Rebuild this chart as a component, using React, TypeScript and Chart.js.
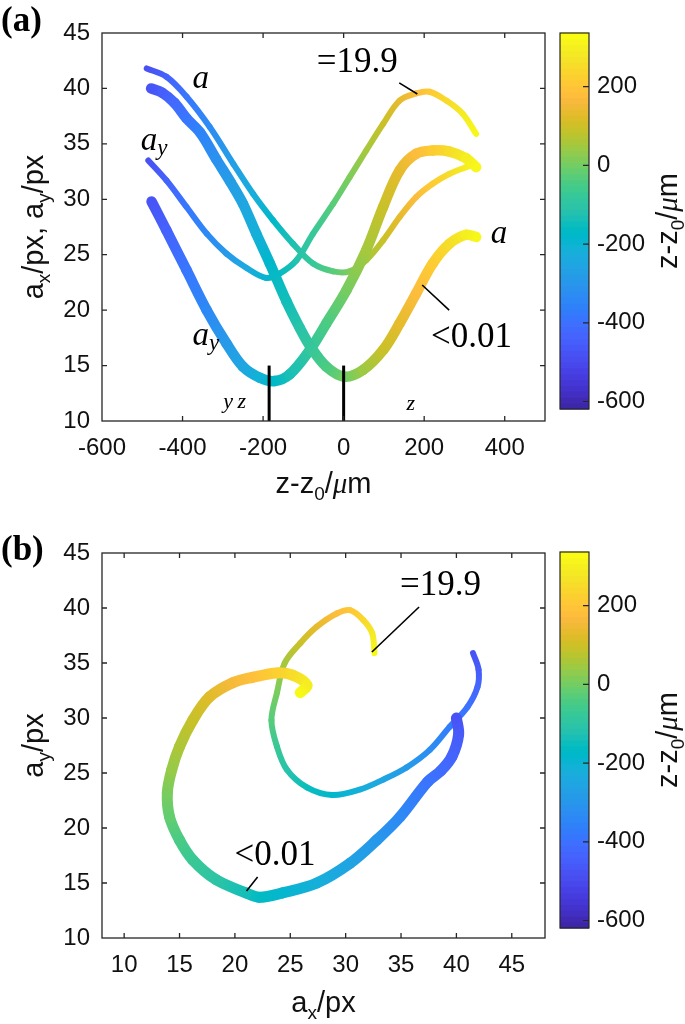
import React, { useEffect, useRef } from "react";
import { Chart, registerables } from "chart.js";

Chart.register(...registerables);

// ---------------- Panel (a): a_x, a_y versus z - z0 ----------------
const thickAxZ = [-478, -450, -420, -390, -356, -316, -280, -250, -217, -183, -142, -109, -84, -43, 2, 48, 98, 139, 180, 221, 263, 304, 329];
const thickAxV = [40.0, 39.6, 38.7, 37.3, 36.0, 33.6, 31.5, 29.6, 26.9, 24.2, 20.8, 18.4, 16.8, 14.9, 14.0, 14.6, 16.4, 18.8, 21.5, 24.2, 26.0, 26.8, 26.6];
const thickAyZ = [-477, -440, -390, -340, -291, -250, -208, -171, -134, -84, -43, 7, 56, 98, 139, 180, 221, 263, 304, 329];
const thickAyV = [29.8, 27.2, 23.6, 20.0, 17.0, 14.9, 13.9, 13.6, 14.2, 16.4, 18.8, 21.8, 25.4, 29.3, 32.6, 34.1, 34.4, 34.3, 33.7, 32.9];
const thinAxZ = [-489, -440, -390, -332, -274, -225, -175, -126, -76, -26, 15, 56, 98, 139, 180, 221, 263, 304, 325];
const thinAxV = [41.8, 41.05, 39.25, 36.5, 33.2, 30.5, 28.1, 26.0, 24.2, 23.5, 23.5, 24.5, 26.3, 28.4, 30.2, 31.4, 32.3, 32.9, 33.2];
const thinAyZ = [-485, -440, -390, -340, -291, -241, -192, -159, -117, -76, -26, 15, 56, 98, 139, 180, 213, 255, 296, 329];
const thinAyV = [33.5, 31.7, 29.3, 26.9, 25.1, 23.8, 22.9, 23.3, 24.5, 26.9, 29.6, 32.0, 34.4, 36.8, 38.9, 39.55, 39.7, 38.9, 37.7, 35.9];
const focusZ = [-185, 0]; // vertical markers
const focusSpan = [10, 15];

// ---------------- Panel (b): a_y versus a_x ----------------
const bThickX = [40.0, 40.2, 39.6, 38.6, 37.4, 34.9, 32.8, 30.4, 27.4, 24.3, 22.2, 21.0, 18.3, 16.2, 15.0, 14.1, 13.9, 14.3, 15.0, 16.2, 17.7, 19.8, 21.6, 23.8, 25.2, 26.5, 25.9];
const bThickY = [30.0, 28.5, 26.5, 25.2, 24.2, 21.0, 18.9, 16.8, 15.0, 14.1, 13.7, 14.1, 15.3, 17.1, 18.9, 21.0, 23.2, 25.3, 27.4, 29.8, 31.9, 33.2, 33.7, 34.1, 33.9, 33.0, 32.3];
const bThickZ = [-480, -460, -435, -415, -395, -340, -300, -260, -220, -190, -165, -140, -100, -70, -45, -15, 10, 40, 65, 95, 130, 165, 190, 230, 260, 300, 330];
const bThinX = [41.5, 42.0, 41.9, 41.0, 39.4, 37.6, 35.5, 33.4, 31.3, 28.8, 26.5, 24.7, 23.8, 23.3, 23.8, 24.5, 25.9, 27.4, 29.2, 30.4, 31.6, 32.4, 32.6];
const bThinY = [35.9, 34.4, 32.8, 31.0, 29.2, 27.1, 25.5, 24.4, 23.5, 23.0, 23.7, 25.3, 27.4, 29.8, 32.3, 35.0, 36.8, 38.3, 39.5, 39.8, 38.9, 37.7, 35.9];
const bThinZ = [-480, -455, -430, -400, -370, -330, -290, -255, -220, -185, -150, -110, -70, -30, 10, 55, 100, 140, 180, 210, 250, 290, 330];

// ---------------- Axes / ticks ----------------
const zRange = [-600, 500];
const aRange = [10, 45];
const axRangeB = [8, 48];
const zTicks = [-600, -400, -200, 0, 200, 400];
const aTicks = [10, 15, 20, 25, 30, 35, 40, 45];
const axTicksB = [10, 15, 20, 25, 30, 35, 40, 45];
const cbTicks = [200, 0, -200, -400, -600];
const cbRange = [-619, 336];

// annotation pointer segments [x0, y0, x1, y1] in data units
const pointersA = [[138, 40.5, 183, 39.5], [195, 22.27, 262, 20.0]];
const pointersB = [[32.37, 36.0, 36.63, 40.09], [21.05, 14.27, 22.05, 15.55]];

// MATLAB parula (64)
const PARULA = [
  [0.2422, 0.1504, 0.6603], [0.2504, 0.165, 0.7076], [0.2578, 0.1818, 0.7511], [0.2647, 0.1978, 0.7952],
  [0.2706, 0.2147, 0.8364], [0.2751, 0.2342, 0.871], [0.2783, 0.2559, 0.8991], [0.2803, 0.2782, 0.9221],
  [0.2813, 0.3006, 0.9414], [0.281, 0.3228, 0.9579], [0.2795, 0.3447, 0.9717], [0.276, 0.3667, 0.9829],
  [0.2699, 0.3892, 0.9906], [0.2602, 0.4123, 0.9952], [0.244, 0.4358, 0.9988], [0.2206, 0.4603, 0.9973],
  [0.1963, 0.4847, 0.9892], [0.1834, 0.5074, 0.9798], [0.1786, 0.5289, 0.9682], [0.1764, 0.5499, 0.952],
  [0.1687, 0.5703, 0.9359], [0.154, 0.5902, 0.9218], [0.146, 0.6091, 0.9079], [0.138, 0.6276, 0.8973],
  [0.1248, 0.6459, 0.8883], [0.1113, 0.6635, 0.8763], [0.0952, 0.6798, 0.8598], [0.0689, 0.6948, 0.8394],
  [0.0297, 0.7082, 0.8163], [0.0036, 0.7203, 0.7917], [0.0067, 0.7312, 0.766], [0.0433, 0.7411, 0.7394],
  [0.0964, 0.75, 0.712], [0.1408, 0.7584, 0.6842], [0.1717, 0.767, 0.6554], [0.1938, 0.7758, 0.6251],
  [0.2161, 0.7843, 0.5923], [0.247, 0.7918, 0.5567], [0.2906, 0.7973, 0.5188], [0.3406, 0.8008, 0.4789],
  [0.3909, 0.8029, 0.4354], [0.4456, 0.8024, 0.3909], [0.5044, 0.7993, 0.348], [0.5616, 0.7942, 0.3045],
  [0.6174, 0.7876, 0.2612], [0.672, 0.7793, 0.2227], [0.7242, 0.7698, 0.191], [0.7738, 0.7598, 0.1646],
  [0.8203, 0.7498, 0.1535], [0.8634, 0.7406, 0.1596], [0.9035, 0.733, 0.1774], [0.9393, 0.7288, 0.21],
  [0.9728, 0.7298, 0.2394], [0.9956, 0.7434, 0.2371], [0.997, 0.7659, 0.2199], [0.9952, 0.7893, 0.2028],
  [0.9892, 0.8136, 0.1885], [0.9786, 0.8386, 0.1766], [0.9676, 0.8639, 0.1643], [0.961, 0.889, 0.1537],
  [0.9597, 0.9135, 0.1423], [0.9628, 0.9373, 0.1265], [0.9691, 0.9606, 0.1064], [0.9769, 0.9839, 0.0805],
];

function rgb(c: number[]) {
  return `rgb(${Math.round(c[0] * 255)},${Math.round(c[1] * 255)},${Math.round(c[2] * 255)})`;
}
function cmap(z: number): string {
  const t = Math.min(1, Math.max(0, (z - cbRange[0]) / (cbRange[1] - cbRange[0])));
  const f = t * 63;
  const i = Math.min(62, Math.floor(f));
  const u = f - i;
  const a = PARULA[i], b = PARULA[i + 1];
  return rgb([a[0] + (b[0] - a[0]) * u, a[1] + (b[1] - a[1]) * u, a[2] + (b[2] - a[2]) * u]);
}

const SANS = "'Liberation Sans', Arial, Helvetica, sans-serif";
const SERIF = "'Liberation Serif', 'Times New Roman', serif";
const INK = "#111";

type Part = { t: string; font: string; dy: number };
const sans = (t: string, size = 29, dy = 0): Part => ({ t, font: `${size}px ${SANS}`, dy });
const ital = (t: string, size = 33, dy = 0): Part => ({ t, font: `italic ${size}px ${SERIF}`, dy });
const rom = (t: string, size = 35, dy = 0): Part => ({ t, font: `${size}px ${SERIF}`, dy });

function drawRich(ctx: CanvasRenderingContext2D, parts: Part[], x: number, y: number, center: boolean) {
  ctx.textBaseline = "alphabetic";
  ctx.textAlign = "left";
  let total = 0;
  for (const p of parts) {
    ctx.font = p.font;
    total += ctx.measureText(p.t).width;
  }
  let cx = center ? x - total / 2 : x;
  for (const p of parts) {
    ctx.font = p.font;
    ctx.fillText(p.t, cx, y + p.dy);
    cx += ctx.measureText(p.t).width;
  }
}

const segGrad = (c: any) => {
  const ds = c.chart.data.datasets[c.datasetIndex];
  const d0 = ds.data[c.p0DataIndex];
  const d1 = ds.data[c.p1DataIndex];
  const g = c.chart.ctx.createLinearGradient(c.p0.x, c.p0.y, c.p1.x + 0.01, c.p1.y + 0.01);
  g.addColorStop(0, cmap(d0.z));
  g.addColorStop(1, cmap(d1.z));
  return g;
};

function colored(xs: number[], ys: number[], zs: number[], width: number) {
  return {
    data: xs.map((x, i) => ({ x, y: ys[i], z: zs[i] })),
    showLine: true,
    pointRadius: 0,
    pointHoverRadius: 0,
    borderWidth: width,
    tension: 0.35,
    borderCapStyle: "round",
    borderJoinStyle: "round",
    borderColor: cmap(zs[0]),
    segment: { borderColor: segGrad, borderDashOffset: (c: any) => c.p0DataIndex + 1 },
  };
}
function blackLine(x0: number, y0: number, x1: number, y1: number, width: number) {
  return {
    data: [{ x: x0, y: y0 }, { x: x1, y: y1 }],
    showLine: true,
    pointRadius: 0,
    pointHoverRadius: 0,
    borderWidth: width,
    borderColor: "#000",
    tension: 0,
  };
}

interface Txt { parts: Part[]; x: number; y: number }
interface PanelCfg {
  label: string;
  labelY: number;
  xRange: number[];
  yRange: number[];
  xTicks: number[];
  yTicks: number[];
  padTop: number;
  axisH: number;
  xTitle: Part[];
  xTitleY: number;
  yTitle: Part[];
  cb: { left: number; right: number; top: number; bottom: number };
  texts: Txt[];
  datasets: any[];
}

const zTitle = [sans("z-z"), sans("0", 19, 7), sans("/"), ital("\u03bc", 29), sans("m")];

const panelA: PanelCfg = {
  label: "(a)",
  labelY: 31,
  xRange: zRange,
  yRange: aRange,
  xTicks: zTicks,
  yTicks: aTicks,
  padTop: 33,
  axisH: 91,
  xTitle: zTitle,
  xTitleY: 493,
  yTitle: [sans("a"), sans("x", 19, 7), sans("/px, a"), sans("y", 19, 7), sans("/px")],
  cb: { left: 560, right: 589, top: 33, bottom: 409 },
  texts: [
    { parts: [ital("a")], x: -375, y: 40.05 },
    { parts: [ital("a"), ital("y", 23, 5)], x: -504, y: 34.46 },
    { parts: [ital("a"), ital("y", 23, 5)], x: -375, y: 16.86 },
    { parts: [ital("a")], x: 365, y: 26.07 },
    { parts: [rom("=19.9")], x: -67, y: 41.5 },
    { parts: [rom("<0.01")], x: 217, y: 16.68 },
    { parts: [ital("y\u2009z", 22)], x: -299, y: 11.2 },
    { parts: [ital("z", 22)], x: 156, y: 11.0 },
  ],
  datasets: [
    ...pointersA.map((p) => blackLine(p[0], p[1], p[2], p[3], 1.6)),
    ...focusZ.map((z) => blackLine(z, focusSpan[0], z, focusSpan[1], 3)),
    colored(thickAxZ, thickAxV, thickAxZ, 10.5),
    colored(thickAyZ, thickAyV, thickAyZ, 10.5),
    colored(thinAxZ, thinAxV, thinAxZ, 6),
    colored(thinAyZ, thinAyV, thinAyZ, 6),
  ],
};

const panelB: PanelCfg = {
  label: "(b)",
  labelY: 48,
  xRange: axRangeB,
  yRange: aRange,
  xTicks: axTicksB,
  yTicks: aTicks,
  padTop: 41,
  axisH: 86,
  xTitle: [sans("a"), sans("x", 19, 7), sans("/px")],
  xTitleY: 500,
  yTitle: [sans("a"), sans("y", 19, 7), sans("/px")],
  cb: { left: 560, right: 589, top: 40, bottom: 416 },
  texts: [
    { parts: [rom("=19.9")], x: 34.9, y: 41.2 },
    { parts: [rom("<0.01")], x: 19.96, y: 16.64 },
  ],
  datasets: [
    ...pointersB.map((p) => blackLine(p[0], p[1], p[2], p[3], 1.6)),
    colored(bThickX, bThickY, bThickZ, 11),
    colored(bThinX, bThinY, bThinZ, 6),
  ],
};

function makePlugin(cfg: PanelCfg) {
  return {
    id: "decor" + cfg.label,
    afterDraw(chart: any) {
      const ctx: CanvasRenderingContext2D = chart.ctx;
      const { left, right, top, bottom } = chart.chartArea;
      const xs = chart.scales.x;
      const ys = chart.scales.y;
      ctx.save();
      // frame + inward ticks
      ctx.strokeStyle = "#262626";
      ctx.lineWidth = 1.3;
      ctx.strokeRect(left, top, right - left, bottom - top);
      ctx.beginPath();
      for (const v of cfg.xTicks) {
        const px = xs.getPixelForValue(v);
        if (px <= left + 1 || px >= right - 1) continue;
        ctx.moveTo(px, bottom); ctx.lineTo(px, bottom - 5);
        ctx.moveTo(px, top); ctx.lineTo(px, top + 5);
      }
      for (const v of cfg.yTicks) {
        const py = ys.getPixelForValue(v);
        if (py <= top + 1 || py >= bottom - 1) continue;
        ctx.moveTo(left, py); ctx.lineTo(left + 5, py);
        ctx.moveTo(right, py); ctx.lineTo(right - 5, py);
      }
      ctx.stroke();

      // colorbar
      const cb = cfg.cb;
      const n = PARULA.length;
      const h = cb.bottom - cb.top;
      for (let k = 0; k < n; k++) {
        const y1 = cb.bottom - (k / n) * h;
        const y0 = cb.bottom - ((k + 1) / n) * h;
        ctx.fillStyle = rgb(PARULA[k]);
        ctx.fillRect(cb.left, y0 - 0.5, cb.right - cb.left, y1 - y0 + 1);
      }
      ctx.strokeStyle = "#262626";
      ctx.lineWidth = 1.2;
      ctx.strokeRect(cb.left, cb.top, cb.right - cb.left, h);
      ctx.beginPath();
      ctx.fillStyle = INK;
      ctx.font = `24px ${SANS}`;
      ctx.textAlign = "left";
      ctx.textBaseline = "middle";
      for (const v of cbTicks) {
        const py = cb.bottom - ((v - cbRange[0]) / (cbRange[1] - cbRange[0])) * h;
        ctx.moveTo(cb.right, py); ctx.lineTo(cb.right - 6, py);
        ctx.fillText(String(v), cb.right + 8, py);
      }
      ctx.stroke();

      ctx.fillStyle = INK;
      // colorbar title (rotated)
      ctx.save();
      ctx.translate(677, (cb.top + cb.bottom) / 2);
      ctx.rotate(-Math.PI / 2);
      drawRich(ctx, zTitle, 0, 0, true);
      ctx.restore();

      // axis titles
      drawRich(ctx, cfg.xTitle, (left + right) / 2, cfg.xTitleY, true);
      ctx.save();
      ctx.translate(43, (top + bottom) / 2);
      ctx.rotate(-Math.PI / 2);
      drawRich(ctx, cfg.yTitle, 0, 0, true);
      ctx.restore();

      // annotations
      ctx.fillStyle = "#000";
      for (const t of cfg.texts) {
        drawRich(ctx, t.parts, xs.getPixelForValue(t.x), ys.getPixelForValue(t.y), false);
      }

      // panel label
      ctx.font = `bold 35px ${SERIF}`;
      ctx.textAlign = "left";
      ctx.textBaseline = "alphabetic";
      ctx.fillText(cfg.label, 1, cfg.labelY);
      ctx.restore();
    },
  };
}

function buildConfig(cfg: PanelCfg): any {
  const tickFont = { family: SANS, size: 24 };
  return {
    type: "scatter",
    data: { datasets: cfg.datasets },
    options: {
      animation: false,
      responsive: false,
      maintainAspectRatio: false,
      events: [],
      layout: { padding: { top: cfg.padTop, right: 140, left: 0, bottom: 0 } },
      plugins: { legend: { display: false }, tooltip: { enabled: false }, title: { display: false } },
      scales: {
        x: {
          type: "linear",
          min: cfg.xRange[0],
          max: cfg.xRange[1],
          grid: { display: false, drawTicks: false, tickLength: 0 },
          border: { display: false },
          afterFit: (s: any) => { s.height = cfg.axisH; },
          afterBuildTicks: (s: any) => { s.ticks = cfg.xTicks.map((v) => ({ value: v })); },
          ticks: { autoSkip: false, maxRotation: 0, minRotation: 0, padding: 13, color: INK, font: tickFont },
        },
        y: {
          type: "linear",
          min: cfg.yRange[0],
          max: cfg.yRange[1],
          grid: { display: false, drawTicks: false, tickLength: 0 },
          border: { display: false },
          afterFit: (s: any) => { s.width = 102; },
          afterBuildTicks: (s: any) => { s.ticks = cfg.yTicks.map((v) => ({ value: v })); },
          ticks: { autoSkip: false, padding: 12, color: INK, font: tickFont },
        },
      },
    },
    plugins: [makePlugin(cfg)],
  };
}

function Panel({ cfg }: { cfg: PanelCfg }) {
  const ref = useRef<HTMLCanvasElement>(null);
  useEffect(() => {
    const chart = new Chart(ref.current as HTMLCanvasElement, buildConfig(cfg));
    return () => chart.destroy();
  }, [cfg]);
  return <canvas ref={ref} width={685} height={512} style={{ display: "block", width: 685, height: 512 }} />;
}

export default function App() {
  return (
    <div style={{ position: "absolute", left: 0, top: 0, width: 685, height: 1024, background: "#fff" }}>
      <Panel cfg={panelA} />
      <Panel cfg={panelB} />
    </div>
  );
}
